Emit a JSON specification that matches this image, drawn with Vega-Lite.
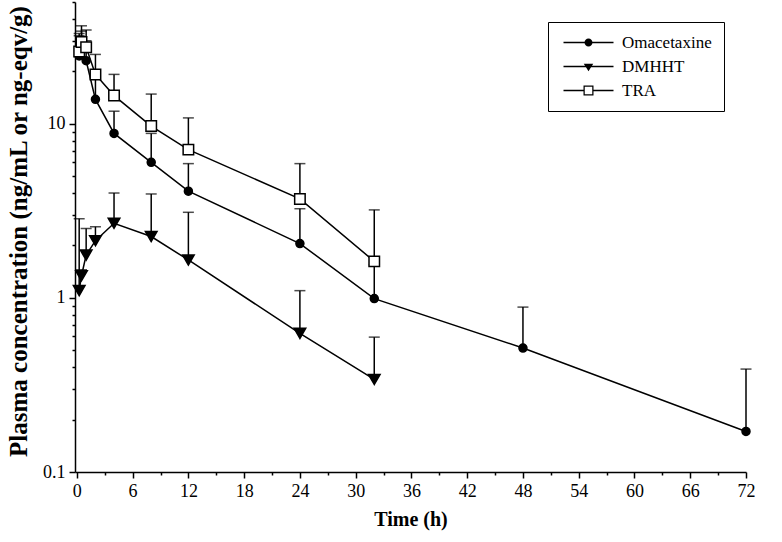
{
  "$schema": "https://vega.github.io/schema/vega-lite/v6.json",
  "autosize": {"type": "none"},
  "width": 671,
  "height": 470,
  "padding": {"left": 75, "top": 2, "right": 36, "bottom": 70},
  "background": "white",
  "config": {
    "view": {"stroke": null},
    "font": "Liberation Serif",
    "axis": {
      "grid": false,
      "domainColor": "black",
      "domainWidth": 1.5,
      "tickColor": "black",
      "tickWidth": 1.5,
      "labelColor": "black",
      "labelFont": "Liberation Serif",
      "labelFontSize": 18,
      "titleColor": "black",
      "titleFont": "Liberation Serif",
      "titleFontWeight": "bold"
    }
  },
  "data": {
    "values": [
      {"s": "Omacetaxine", "t": 0.25, "v": 24.5, "u": 32},
      {"s": "Omacetaxine", "t": 0.5, "v": 26.5, "u": 34},
      {"s": "Omacetaxine", "t": 1, "v": 23, "u": 30},
      {"s": "Omacetaxine", "t": 2, "v": 13.8, "u": 18.5},
      {"s": "Omacetaxine", "t": 4, "v": 8.8, "u": 11.8},
      {"s": "Omacetaxine", "t": 8, "v": 6.0, "u": 8.8},
      {"s": "Omacetaxine", "t": 12, "v": 4.1, "u": 5.9},
      {"s": "Omacetaxine", "t": 24, "v": 2.05, "u": 3.25},
      {"s": "Omacetaxine", "t": 32, "v": 0.99, "u": 1.55},
      {"s": "Omacetaxine", "t": 48, "v": 0.515, "u": 0.885},
      {"s": "Omacetaxine", "t": 72, "v": 0.171, "u": 0.39},
      {"s": "DMHHT", "t": 0.25, "v": 1.1, "u": 2.85},
      {"s": "DMHHT", "t": 0.5, "v": 1.34, "u": 1.45},
      {"s": "DMHHT", "t": 1, "v": 1.76, "u": 2.5},
      {"s": "DMHHT", "t": 2, "v": 2.13, "u": 2.56},
      {"s": "DMHHT", "t": 4, "v": 2.68, "u": 4.0},
      {"s": "DMHHT", "t": 8, "v": 2.25, "u": 3.95},
      {"s": "DMHHT", "t": 12, "v": 1.65, "u": 3.1},
      {"s": "DMHHT", "t": 24, "v": 0.625, "u": 1.1},
      {"s": "DMHHT", "t": 32, "v": 0.34, "u": 0.595},
      {"s": "TRA", "t": 0.25, "v": 26, "u": 33},
      {"s": "TRA", "t": 0.5, "v": 29.5, "u": 36.5},
      {"s": "TRA", "t": 1, "v": 27.5, "u": 34.5},
      {"s": "TRA", "t": 2, "v": 19.2, "u": 25},
      {"s": "TRA", "t": 4, "v": 14.5, "u": 19.2},
      {"s": "TRA", "t": 8, "v": 9.7, "u": 14.8},
      {"s": "TRA", "t": 12, "v": 7.1, "u": 10.8},
      {"s": "TRA", "t": 24, "v": 3.7, "u": 5.9},
      {"s": "TRA", "t": 32, "v": 1.62, "u": 3.2}
    ]
  },
  "encoding": {
    "x": {
      "field": "t",
      "type": "quantitative",
      "scale": {"domain": [-0.2, 72], "nice": false, "zero": false},
      "axis": {
        "title": "Time (h)",
        "titleFontSize": 20,
        "titlePadding": 9,
        "values": [0, 3, 6, 9, 12, 15, 18, 21, 24, 27, 30, 33, 36, 39, 42, 45, 48, 51, 54, 57, 60, 63, 66, 69, 72],
        "labelExpr": "datum.value % 6 === 0 ? datum.label : ''",
        "tickSize": {"condition": {"test": "datum.value % 6 === 0", "value": 6}, "value": 3},
        "labelPadding": 4,
        "labelFlush": false
      }
    },
    "y": {
      "field": "v",
      "type": "quantitative",
      "scale": {"type": "log", "domain": [0.1, 50], "nice": false, "zero": false},
      "axis": {
        "title": "Plasma concentration (ng/mL or ng-eqv/g)",
        "titleFontSize": 25,
        "titlePadding": 11,
        "titleY": 229,
        "values": [0.1, 0.2, 0.3, 0.4, 0.5, 0.6, 0.7, 0.8, 0.9, 1, 2, 3, 4, 5, 6, 7, 8, 9, 10, 20, 30, 40, 50],
        "format": "~g",
        "labelExpr": "(datum.value === 0.1 || datum.value === 1 || datum.value === 10) ? datum.label : ''",
        "tickSize": {"condition": {"test": "datum.value === 0.1 || datum.value === 1 || datum.value === 10", "value": 6}, "value": 3},
        "labelPadding": 4,
        "labelFlush": false
      }
    }
  },
  "layer": [
    {
      "mark": {"type": "line", "color": "black", "strokeWidth": 1.5},
      "encoding": {
        "detail": {"field": "s"},
        "order": {"field": "t"}
      }
    },
    {
      "mark": {"type": "rule", "color": "black", "strokeWidth": 1.5},
      "encoding": {
        "y2": {"field": "u"}
      }
    },
    {
      "mark": {"type": "tick", "color": "black", "orient": "horizontal", "size": 11, "thickness": 1.5},
      "encoding": {
        "y": {"field": "u", "type": "quantitative"}
      }
    },
    {
      "mark": {"type": "point", "opacity": 1, "stroke": "black", "strokeWidth": 1.5},
      "encoding": {
        "shape": {
          "condition": [
            {"test": "datum.s === 'Omacetaxine'", "value": "circle"},
            {"test": "datum.s === 'DMHHT'", "value": "triangle-down"}
          ],
          "value": "square"
        },
        "fill": {
          "condition": {"test": "datum.s === 'TRA'", "value": "white"},
          "value": "black"
        },
        "size": {
          "condition": [
            {"test": "datum.s === 'Omacetaxine'", "value": 64},
            {"test": "datum.s === 'DMHHT'", "value": 135}
          ],
          "value": 110
        }
      }
    },
    {
      "mark": {"type": "point", "filled": true, "color": "black", "opacity": 0},
      "encoding": {
        "shape": {
          "field": "s",
          "type": "nominal",
          "sort": ["Omacetaxine", "DMHHT", "TRA"],
          "scale": {
            "domain": ["Omacetaxine", "DMHHT", "TRA"],
            "range": [
              "M-5,-0.15H5V0.15H-5Z M-0.8,0A0.8,0.8,0,1,1,0.8,0A0.8,0.8,0,1,1,-0.8,0Z",
              "M-5,-0.15H5V0.15H-5Z M-0.95,-0.55L0.95,-0.55L0,0.95Z",
              "M-5,-0.15H-1V0.15H-5Z M1,-0.15H5V0.15H1Z M-1,-1H1V1H-1Z M-0.75,-0.75V0.75H0.75V-0.75Z"
            ]
          },
          "legend": {
            "title": null,
            "orient": "none",
            "legendX": 473,
            "legendY": 20,
            "strokeColor": "black",
            "padding": 12,
            "cornerRadius": 0,
            "labelFont": "Liberation Serif",
            "labelFontSize": 17,
            "labelColor": "black",
            "labelAlign": "left",
            "labelBaseline": "middle",
            "rowPadding": 6,
            "symbolSize": 100,
            "symbolOpacity": 1,
            "symbolFillColor": "black",
            "symbolStrokeColor": "black",
            "symbolStrokeWidth": 0,
            "symbolOffset": 20,
            "labelOffset": 25
          }
        }
      }
    }
  ]
}
